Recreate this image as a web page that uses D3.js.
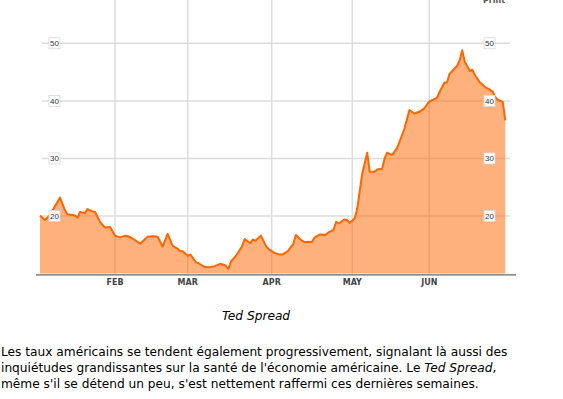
<!DOCTYPE html>
<html>
<head>
<meta charset="utf-8">
<script src="https://cdn.jsdelivr.net/npm/d3@7"></script>
<style>
  body { margin: 0; background: #fff; }
</style>
</head>
<body>
<div id="chart"></div>
<script>
// TED spread (basis points)
const dates = [
  "2008-01-02","2008-01-04","2008-01-06","2008-01-10","2008-01-12","2008-01-13","2008-01-16","2008-01-17",
  "2008-01-18","2008-01-20","2008-01-21","2008-01-23","2008-01-24","2008-01-26","2008-01-28","2008-01-30",
  "2008-02-01","2008-02-03","2008-02-05","2008-02-06","2008-02-08","2008-02-11","2008-02-14","2008-02-16",
  "2008-02-18","2008-02-20","2008-02-22","2008-02-24","2008-02-26","2008-02-27","2008-02-28",
  "2008-03-01","2008-03-02","2008-03-04","2008-03-05","2008-03-07","2008-03-09","2008-03-11","2008-03-13",
  "2008-03-15","2008-03-16","2008-03-17","2008-03-19","2008-03-21","2008-03-22","2008-03-24","2008-03-25",
  "2008-03-26","2008-03-28","2008-03-30","2008-03-31",
  "2008-04-02","2008-04-04","2008-04-05","2008-04-07","2008-04-09","2008-04-10","2008-04-12","2008-04-13",
  "2008-04-16","2008-04-17","2008-04-19","2008-04-21","2008-04-22","2008-04-24","2008-04-25","2008-04-26",
  "2008-04-28","2008-04-29","2008-04-30",
  "2008-05-02","2008-05-03","2008-05-05","2008-05-07","2008-05-08","2008-05-10","2008-05-11","2008-05-13",
  "2008-05-14","2008-05-15","2008-05-17","2008-05-19","2008-05-20","2008-05-22","2008-05-24","2008-05-26",
  "2008-05-28","2008-05-30",
  "2008-06-01","2008-06-04","2008-06-05","2008-06-07","2008-06-08","2008-06-09","2008-06-12","2008-06-13",
  "2008-06-14","2008-06-15","2008-06-17","2008-06-18","2008-06-19","2008-06-21","2008-06-23","2008-06-25",
  "2008-06-26","2008-06-27","2008-06-28","2008-06-30","2008-07-01"
];
const spread = [
  20.1,19.3,20.2,23.2,21.0,20.3,20.1,19.7,
  20.7,20.5,21.2,20.8,20.7,19.0,18.0,18.1,
  16.6,16.3,16.6,16.5,16.1,15.2,16.4,16.5,
  16.4,14.7,16.9,14.8,14.3,13.9,13.9,
  13.1,13.3,12.0,11.8,11.2,11.1,11.3,11.7,
  11.4,10.8,12.1,13.2,14.7,16.0,15.3,15.9,
  15.7,16.6,14.7,14.2,
  13.6,13.3,13.3,13.9,15.1,16.7,15.8,15.5,
  15.5,16.3,16.8,16.7,17.1,17.6,19.0,18.7,
  19.4,19.3,18.8,
  19.6,21.3,27.4,31.0,27.7,27.7,28.1,28.2,
  30.0,31.0,30.6,31.8,32.9,35.2,38.4,37.8,
  38.1,38.7,
  39.9,40.5,41.5,43.2,43.2,44.7,46.1,47.1,
  48.8,46.8,45.2,45.4,44.5,43.2,42.4,41.9,
  41.6,40.7,40.2,39.8,36.6
];

const monthTicks = ["2008-02-01","2008-03-01","2008-04-01","2008-05-01","2008-06-01"];
const monthLabels = ["FEB","MAR","APR","MAY","JUN"];
const yTicks = [20, 30, 40, 50];

const caption = "Ted Spread";
const paragraph = [
  [{t: "Les taux américains se tendent également progressivement, signalant là aussi des"}],
  [{t: "inquiétudes grandissantes sur la santé de l'économie américaine. Le "}, {t: "Ted Spread", i: true}, {t: ","}],
  [{t: "même s'il se détend un peu, s'est nettement raffermi ces dernières semaines."}]
];

const W = 563, H = 399;
const parse = d3.timeParse("%Y-%m-%d");
const data = dates.map((d, i) => ({ date: parse(d), value: spread[i] }));

// the month columns of the original are not evenly wide, so the time scale is piecewise
const monthEdges = ["2008-01-01","2008-02-01","2008-03-01","2008-04-01","2008-05-01","2008-06-01","2008-07-01"].map(parse);
const monthEdgeX = [37.5, 115, 187.7, 271.7, 352.3, 429.3, 505.3];

const x = d3.scaleTime().domain(monthEdges).range(monthEdgeX);
const y = d3.scaleLinear().domain([10, 50]).range([273.6, 43.3]);

const svg = d3.select('#chart')
  .append('svg')
  .attr('width', W)
  .attr('height', H)
  .style('display', 'block');

// grid
svg.append('g')
  .selectAll('line')
  .data(yTicks)
  .enter()
  .append('line')
  .attr('x1', 42).attr('x2', 510)
  .attr('y1', d => y(d)).attr('y2', d => y(d))
  .attr('stroke', '#dcdcdc')
  .attr('stroke-width', 1.5);

svg.append('g')
  .selectAll('line')
  .data(monthTicks.map(parse))
  .enter()
  .append('line')
  .attr('x1', d => x(d)).attr('x2', d => x(d))
  .attr('y1', 0).attr('y2', 274)
  .attr('stroke', '#dcdcdc')
  .attr('stroke-width', 1.5);

// area + line
const area = d3.area()
  .x(d => x(d.date))
  .y0(y(10))
  .y1(d => y(d.value));

const line = d3.line()
  .x(d => x(d.date))
  .y(d => y(d.value));

svg.append('path')
  .datum(data)
  .attr('d', area)
  .attr('fill', '#ff6600')
  .attr('fill-opacity', 0.51);

svg.append('path')
  .datum(data)
  .attr('d', line)
  .attr('fill', 'none')
  .attr('stroke', '#ff6600')
  .attr('stroke-width', 2)
  .attr('stroke-linejoin', 'round');

// x axis baseline and month labels
svg.append('line')
  .attr('x1', 36).attr('x2', 516)
  .attr('y1', 274.8).attr('y2', 274.8)
  .attr('stroke', '#666')
  .attr('stroke-width', 1.2);

svg.append('g')
  .selectAll('text')
  .data(monthTicks)
  .enter()
  .append('text')
  .attr('x', d => x(parse(d)))
  .attr('y', 285)
  .attr('text-anchor', 'middle')
  .style('font-family', 'DejaVu Sans, sans-serif')
  .style('font-weight', 'bold')
  .style('font-size', '8px')
  .style('fill', '#444')
  .text((d, i) => monthLabels[i]);

// y labels in little boxes, both sides
[54.5, 489.5].forEach(cx => {
  const g = svg.append('g')
    .selectAll('g')
    .data(yTicks)
    .enter()
    .append('g')
    .attr('transform', d => `translate(${cx},${y(d)})`);
  g.append('rect')
    .attr('x', -5.5).attr('y', -5.5)
    .attr('width', 11).attr('height', 11)
    .attr('fill', '#fff')
    .attr('stroke', '#d8d8d8')
    .attr('stroke-width', 0.8);
  g.append('text')
    .attr('y', 3)
    .attr('text-anchor', 'middle')
    .style('font-family', 'Liberation Sans, Arial, sans-serif')
    .style('font-size', '8px')
    .style('fill', '#333')
    .text(d => d);
});

// "Print" link, cut off at the top edge as in the original
svg.append('text')
  .attr('x', 483).attr('y', 3)
  .style('font-family', 'DejaVu Sans, sans-serif')
  .style('font-weight', 'bold')
  .style('font-size', '8px')
  .style('fill', '#555')
  .text('Print');

// caption
svg.append('text')
  .attr('x', 256).attr('y', 320)
  .attr('text-anchor', 'middle')
  .style('font-family', 'DejaVu Sans, sans-serif')
  .style('font-style', 'italic')
  .style('font-size', '12.2px')
  .style('fill', '#000')
  .text(caption);

// paragraph
const para = svg.append('g')
  .style('font-family', 'DejaVu Sans, sans-serif')
  .style('font-size', '12.2px')
  .style('fill', '#000');

paragraph.forEach((parts, i) => {
  const t = para.append('text')
    .attr('x', 1)
    .attr('y', 356 + i * 16);
  parts.forEach(p => {
    t.append('tspan')
      .style('font-style', p.i ? 'italic' : 'normal')
      .text(p.t);
  });
});
</script>
</body>
</html>
